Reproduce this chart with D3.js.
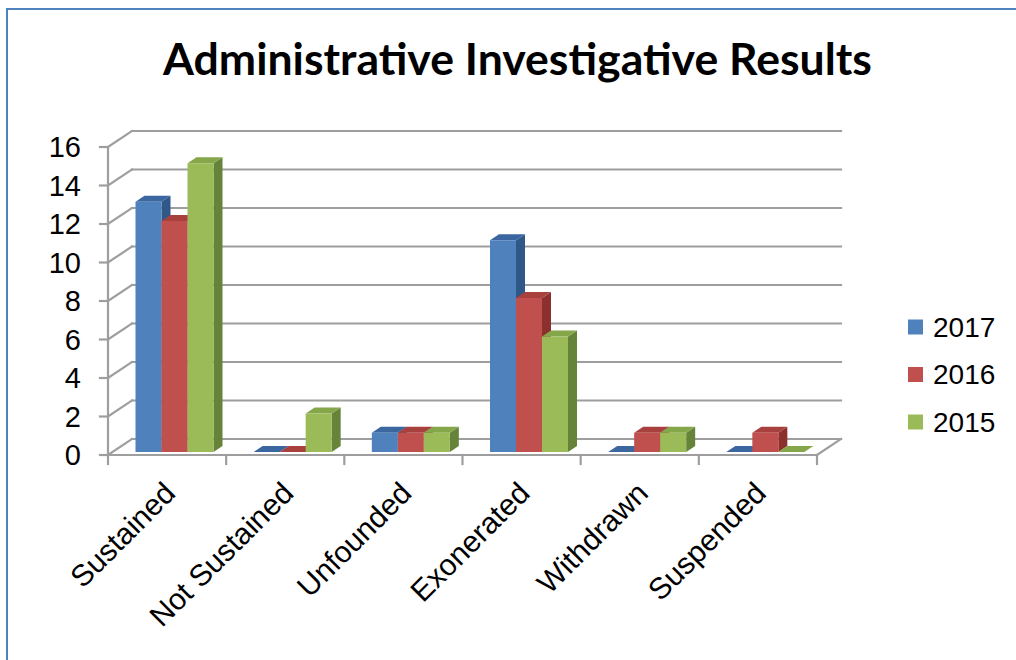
<!DOCTYPE html>
<html>
<head>
<meta charset="utf-8">
<script src="https://cdn.jsdelivr.net/npm/d3@7"></script>
<style>
  html, body { margin: 0; padding: 0; background: #fff; }
  svg { display: block; }
</style>
</head>
<body>
<svg id="chart" width="1016" height="660"></svg>
<script>
// Case outcomes per category, one array per year
const categories = ["Sustained", "Not Sustained", "Unfounded", "Exonerated", "Withdrawn", "Suspended"];
const seriesNames = ["2017", "2016", "2015"];
const values2017 = [13, 0, 1, 11, 0, 0];
const values2016 = [12, 0, 1, 8, 1, 1];
const values2015 = [15, 2, 1, 6, 1, 0];
const yTicks = [0, 2, 4, 6, 8, 10, 12, 14, 16];
const title = "Administrative Investigative Results";

const seriesValues = [values2017, values2016, values2015];
const colors = {
  front: ["#4F81BD", "#C0504D", "#9BBB59"],
  top:   ["#3B66A0", "#A8403D", "#86A64A"],
  side:  ["#2F5788", "#8C302E", "#66833A"]
};

const svg = d3.select("#chart");
const W = 1016, H = 660;

// outer frame (only top and left edges fall inside the view)
svg.append("rect")
  .attr("x", 7).attr("y", 9).attr("width", W + 20).attr("height", H + 20)
  .attr("fill", "#fff").attr("stroke", "#4F81BD").attr("stroke-width", 2);

// Title, fitted to its width
const titleText = svg.append("text")
  .attr("x", 517.5).attr("y", 75)
  .attr("text-anchor", "middle")
  .attr("font-family", "Lato, 'Open Sans', sans-serif")
  .attr("font-weight", "bold")
  .attr("font-size", 40)
  .attr("fill", "#000")
  .text(title);
{
  const len = titleText.node().getComputedTextLength();
  titleText.attr("font-size", 40 * 709 / len);
}

// 3D plot geometry: front plane and depth vector to back wall
const x0 = d3.scaleBand().domain(categories).range([108, 817]).padding(0);
const x1 = d3.scaleBand().domain(seriesNames).range([23, 101]).padding(0);
const y = d3.scaleLinear().domain([0, 16]).range([455, 147]);
const depth = { dx: 24, dy: -16 };
const barShift = { dx: 4.5, dy: -3 };   // bar front face sits slightly behind the front plane
const barDepth = { dx: 9, dy: -6 };

const grid = svg.append("g")
  .attr("stroke", "#9E9E9E").attr("stroke-width", 2.2).attr("fill", "none")
  .attr("stroke-linecap", "square");

// back wall horizontal gridlines
grid.selectAll("line.back").data(yTicks).join("line")
  .attr("class", "back")
  .attr("x1", 108 + depth.dx).attr("x2", 817 + depth.dx)
  .attr("y1", d => y(d) + depth.dy).attr("y2", d => y(d) + depth.dy);

// side wall gridlines
grid.selectAll("line.side").data(yTicks).join("line")
  .attr("class", "side")
  .attr("x1", 108).attr("x2", 108 + depth.dx)
  .attr("y1", d => y(d)).attr("y2", d => y(d) + depth.dy);

// value axis line and ticks
grid.append("line")
  .attr("x1", 108).attr("x2", 108).attr("y1", y(16)).attr("y2", y(0));
grid.selectAll("line.ytick").data(yTicks).join("line")
  .attr("class", "ytick")
  .attr("x1", 100).attr("x2", 108).attr("y1", d => y(d)).attr("y2", d => y(d));

// floor front and right edges
grid.append("line").attr("x1", 108).attr("x2", 817).attr("y1", y(0)).attr("y2", y(0));
grid.append("line").attr("x1", 817).attr("x2", 817 + depth.dx)
  .attr("y1", y(0)).attr("y2", y(0) + depth.dy);

// category ticks
const catEdges = categories.map(c => x0(c)).concat([817]);
grid.selectAll("line.xtick").data(catEdges).join("line")
  .attr("class", "xtick")
  .attr("x1", d => d).attr("x2", d => d).attr("y1", y(0)).attr("y2", y(0) + 9);

// y tick labels
svg.append("g").selectAll("text").data(yTicks).join("text")
  .attr("x", 81).attr("y", d => y(d))
  .attr("text-anchor", "end").attr("dominant-baseline", "central")
  .attr("font-family", "'Liberation Sans', Arial, sans-serif")
  .attr("font-size", 29).attr("fill", "#000")
  .text(d => d);

// bars: drawn left to right so later bars hide the side faces of earlier ones
const bars = [];
categories.forEach((c, ci) => {
  seriesNames.forEach((s, si) => {
    bars.push({ cat: c, series: si, value: seriesValues[si][ci] });
  });
});

const barG = svg.append("g");
bars.forEach(b => {
  const xl = x0(b.cat) + x1(seriesNames[b.series]) + barShift.dx;
  const xr = xl + x1.bandwidth();
  const yb = y(0) + barShift.dy;
  const yt = y(b.value) + barShift.dy;
  const dx = barDepth.dx, dy = barDepth.dy;
  const g = barG.append("g");
  if (b.value > 0) {
    g.append("path")
      .attr("d", `M${xr},${yb} L${xr + dx},${yb + dy} L${xr + dx},${yt + dy} L${xr},${yt} Z`)
      .attr("fill", colors.side[b.series]);
  }
  g.append("path")
    .attr("d", `M${xl},${yt} L${xr},${yt} L${xr + dx},${yt + dy} L${xl + dx},${yt + dy} Z`)
    .attr("fill", colors.top[b.series]);
  if (b.value > 0) {
    g.append("rect")
      .attr("x", xl).attr("y", yt).attr("width", xr - xl).attr("height", yb - yt)
      .attr("fill", colors.front[b.series]);
  }
});

// category labels, rotated
svg.append("g").selectAll("text").data(categories).join("text")
  .attr("transform", d => `translate(${x0(d) + x0.bandwidth() / 2 + 10},495) rotate(-45)`)
  .attr("text-anchor", "end")
  .attr("font-family", "'Liberation Sans', Arial, sans-serif")
  .attr("font-size", 30).attr("fill", "#000")
  .text(d => d);

// legend
const legend = svg.append("g").selectAll("g").data(seriesNames).join("g")
  .attr("transform", (d, i) => `translate(908,${327 + i * 47.5})`);
legend.append("rect")
  .attr("x", 0).attr("y", -7.5).attr("width", 15).attr("height", 15)
  .attr("fill", (d, i) => colors.front[i]);
legend.append("text")
  .attr("x", 25).attr("y", 0).attr("dominant-baseline", "central")
  .attr("font-family", "'Liberation Sans', Arial, sans-serif")
  .attr("font-size", 28).attr("fill", "#000")
  .text(d => d);
</script>
</body>
</html>
